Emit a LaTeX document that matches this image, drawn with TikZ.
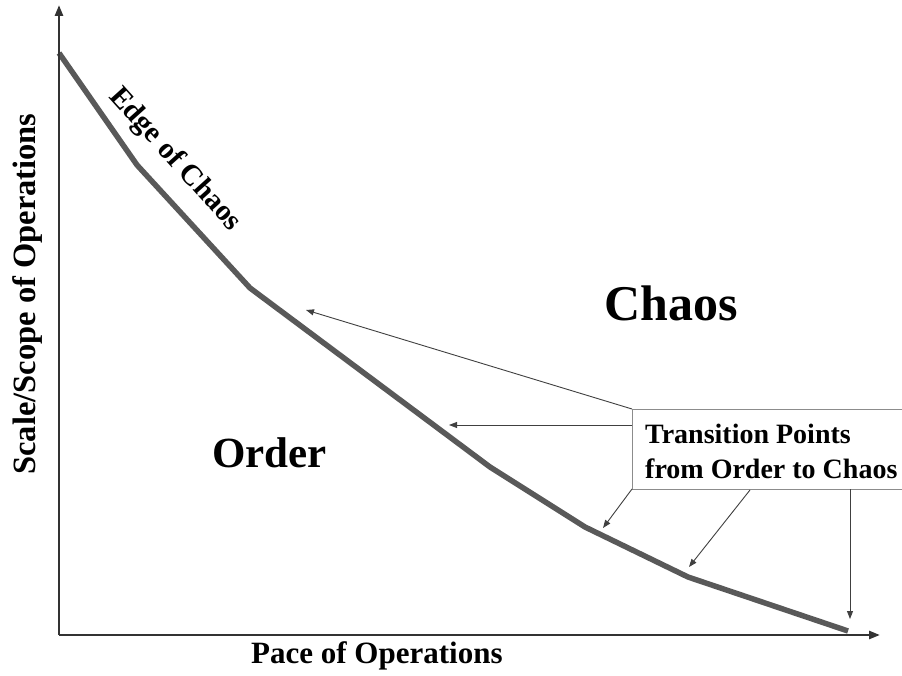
\documentclass[tikz,border=0pt]{standalone}
\usepackage{fontspec}
\setmainfont{Liberation Serif}
\usetikzlibrary{arrows.meta}
\begin{document}
\begin{tikzpicture}[x=1pt,y=-1pt,
  axis/.style={line width=2.6pt,black!80,-{Triangle[length=11pt,width=8pt]}},
  edgeline/.style={line width=5.5pt,black!65,line join=round},
  ptr/.style={line width=0.9pt,black!75,-{Triangle[length=8pt,width=6pt]}},
  boxline/.style={line width=1pt,black!45},
  lbl/.style={inner sep=0pt,font=\bfseries},
  translbl/.style={lbl,font=\bfseries\fontsize{28}{28}\selectfont,anchor=base west}]
\useasboundingbox (0,0) rectangle (902,676);
\fill[white] (0,0) rectangle (902,676);
% axes
\coordinate (O) at (59,635);
\coordinate (ytop) at (59,5);
\coordinate (xend) at (880,635);
% curve
\coordinate (c0) at (59,53);
\coordinate (c1) at (137,165);
\coordinate (c2) at (250,288);
\coordinate (c3) at (490,467);
\coordinate (c4) at (585,527);
\coordinate (c5) at (688,577);
\coordinate (c6) at (848,631);
\draw[edgeline] (c0) -- (c1) -- (c2) -- (c3) -- (c4) -- (c5) -- (c6);
\draw[axis] (O) -- (ytop);
\draw[axis] (O) -- (xend);
% labels
\node[lbl,font=\bfseries\fontsize{32.5}{32.5}\selectfont,rotate=90,anchor=base] (ylab) at (35,294) {Scale/Scope of Operations};
\node[lbl,font=\bfseries\fontsize{31}{31}\selectfont,anchor=base west] (xlab) at (251,663) {Pace of Operations};
\node[lbl,font=\bfseries\fontsize{29.5}{29.5}\selectfont,rotate=-48] (edge) at (175,160) {Edge of Chaos};
\node[lbl,font=\bfseries\fontsize{50}{50}\selectfont,anchor=base west] (chaos) at (604,320) {Chaos};
\node[lbl,font=\bfseries\fontsize{43}{43}\selectfont,anchor=base west] (order) at (212,467) {Order};
% transition box
\coordinate (bTL) at (632,409);
\coordinate (bBL) at (632,489);
\coordinate (bTR) at (902,409);
\coordinate (bBR) at (902,489);
\draw[boxline] (bTR) -- (bTL) -- (bBL) -- (bBR);
\node[translbl] (trans1) at (645,443) {Transition Points};
\node[translbl] (trans2) at (645,478) {from Order to Chaos};
% pointers
\coordinate (p1s) at (632,409);
\coordinate (p1e) at (306,310);
\coordinate (p2s) at (632,425);
\coordinate (p2e) at (449,425);
\coordinate (p3s) at (632,489);
\coordinate (p3e) at (603,528);
\coordinate (p4s) at (750,490);
\coordinate (p4e) at (689,567);
\coordinate (p5s) at (850,489);
\coordinate (p5e) at (850,619);
\draw[ptr] (p1s) -- (p1e);
\draw[ptr] (p2s) -- (p2e);
\draw[ptr] (p3s) -- (p3e);
\draw[ptr] (p4s) -- (p4e);
\draw[ptr] (p5s) -- (p5e);
\end{tikzpicture}
\end{document}
